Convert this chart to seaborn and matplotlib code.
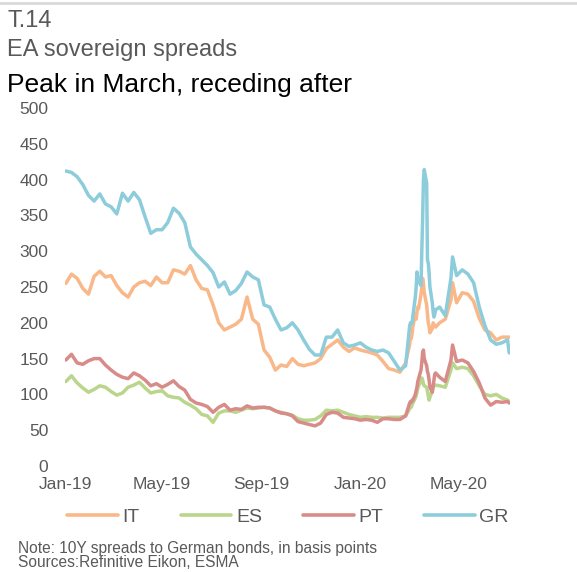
import matplotlib
matplotlib.use("Agg")
import matplotlib.pyplot as plt
import matplotlib.dates as mdates
from matplotlib.lines import Line2D
import seaborn as sns
import pandas as pd

# ---------------- data ----------------
series_names = ["IT", "ES", "PT", "GR"]
series_colors = ["#F9B889", "#BAD58C", "#D88C89", "#8DCCDB"]

weekly_2019 = pd.date_range("2019-01-02", periods=61, freq="7D")          # to 2020-02-26
daily_march = pd.bdate_range("2020-03-02", "2020-04-03")                   # business days
late_dates = pd.to_datetime(["2020-04-08", "2020-04-15", "2020-04-22", "2020-04-24",
                             "2020-04-29", "2020-05-06", "2020-05-13", "2020-05-20",
                             "2020-05-27", "2020-06-03", "2020-06-10", "2020-06-17",
                             "2020-06-24", "2020-07-01", "2020-07-03"])
dates = list(weekly_2019) + list(daily_march) + list(late_dates)

gr = [412, 410, 404, 393, 378, 370, 380, 366, 362, 352,
      381, 370, 382, 372, 348, 325, 330, 330, 340, 360,
      353, 340, 306, 296, 288, 280, 270, 250, 257, 240,
      245, 255, 271, 264, 260, 225, 222, 205, 190, 193,
      200, 190, 176, 163, 155, 155, 180, 180, 190, 172,
      167, 169, 172, 166, 162, 160, 162, 158, 146, 134,
      140,
      196, 200, 198, 200, 210, 236, 250, 271, 262, 258, 252, 300, 345, 400, 414,
      395, 288, 283, 270, 250, 228, 215, 208, 212, 218,
      222, 210, 262, 292, 266, 274, 268, 256, 222, 196, 176, 170, 172, 176, 158]

it = [255, 268, 262, 248, 240, 265, 272, 264, 266, 252,
      242, 236, 250, 256, 258, 252, 264, 256, 256, 274,
      272, 268, 280, 260, 248, 246, 225, 200, 190, 194,
      198, 205, 236, 205, 198, 162, 152, 134, 141, 139,
      150, 142, 140, 142, 144, 150, 164, 170, 176, 166,
      160, 165, 162, 160, 158, 155, 146, 136, 134, 131,
      144,
      170, 180, 178, 185, 195, 212, 205, 215, 222, 220, 240, 250, 262, 255, 242,
      225, 212, 200, 195, 186, 192, 200, 198, 195, 194,
      200, 205, 232, 256, 228, 242, 240, 230, 206, 190, 186, 176, 180, 180, 180]

pt = [148, 156, 144, 142, 147, 150, 150, 141, 134, 128,
      124, 122, 130, 126, 120, 112, 115, 110, 114, 119,
      111, 106, 93, 88, 86, 83, 75, 82, 86, 78,
      80, 79, 84, 81, 82, 82, 81, 77, 74, 73,
      70, 62, 60, 58, 56, 60, 72, 75, 74, 68,
      67, 66, 64, 65, 64, 61, 66, 66, 65, 65,
      70,
      88, 90, 89, 92, 92, 100, 105, 110, 118, 122, 134, 145, 158, 162, 150,
      140, 132, 128, 120, 110, 103, 112, 120, 128, 130,
      124, 118, 148, 169, 146, 148, 144, 132, 116, 95, 85, 90, 89, 90, 88]

es = [118, 126, 116, 109, 103, 107, 112, 110, 104, 99,
      102, 110, 113, 117, 109, 102, 104, 105, 98, 96,
      95, 89, 85, 80, 72, 70, 61, 74, 77, 77,
      75, 78, 81, 80, 81, 82, 81, 77, 75, 73,
      71, 66, 64, 64, 65, 70, 78, 77, 78, 75,
      72, 70, 68, 69, 68, 68, 67, 68, 68, 68,
      70,
      80, 84, 82, 86, 88, 95, 98, 103, 108, 112, 118, 123, 120, 115, 112,
      110, 104, 98, 92, 96, 105, 110, 112, 112, 113,
      112, 110, 134, 144, 136, 138, 136, 126, 112, 100, 98, 100, 95, 92, 90]

y_ticks = list(range(0, 501, 50))

title_code = "T.14"
title_main = "EA sovereign spreads"
subtitle = "Peak in March, receding after"
note_lines = ["Note: 10Y spreads to German bonds, in basis points",
              "Sources:Refinitive Eikon, ESMA"]

# ---------------- figure ----------------
sns.set_theme(style="white")
plt.rcParams["font.family"] = ["Liberation Sans", "DejaVu Sans"]
GREY = "#595959"

df = pd.DataFrame({"date": dates, "IT": it, "ES": es, "PT": pt, "GR": gr})
long = df.melt(id_vars="date", var_name="series", value_name="value")

fig = plt.figure(figsize=(5.77, 5.72), dpi=100)
W, H = 577, 572
ax = fig.add_axes([65 / W, 1 - 466 / H, (510 - 65) / W, (466 - 108) / H])

sns.lineplot(data=long, x="date", y="value", hue="series", hue_order=series_names,
             palette=dict(zip(series_names, series_colors)), linewidth=2.5,
             ax=ax, legend=False)

ax.set_ylim(0, 500)
ax.set_yticks(y_ticks)
ax.set_xlim(pd.Timestamp("2019-01-01"), pd.Timestamp("2020-07-04"))
ax.xaxis.set_major_locator(mdates.MonthLocator(bymonth=[1, 5, 9]))
ax.xaxis.set_major_formatter(mdates.DateFormatter("%b-%y"))
ax.tick_params(axis="both", length=0, labelsize=12.5, colors=GREY)
ax.tick_params(axis="y", pad=12)
ax.tick_params(axis="x", pad=8)
ax.set_xlabel("")
ax.set_ylabel("")
for s in ax.spines.values():
    s.set_visible(False)
ax.grid(False)

handles = [Line2D([0], [0], color=c, lw=2.6) for c in series_colors]
fig.legend(handles, series_names, loc="center left",
           bbox_to_anchor=(67 / W, 1 - 517 / H), ncol=4, frameon=False,
           handlelength=2.62, handletextpad=0.23, columnspacing=2.1,
           borderpad=0, borderaxespad=0, fontsize=14, labelcolor=GREY)

# top rule
fig.add_artist(Line2D([0, 1], [1 - 3 / H, 1 - 3 / H], color="#d9d9d9", lw=2,
                      transform=fig.transFigure))

fig.text(7 / W, 1 - 27 / H, title_code, fontsize=17, color=GREY, va="baseline", ha="left")
fig.text(7 / W, 1 - 56 / H, title_main, fontsize=17, color=GREY, va="baseline", ha="left")
fig.text(7 / W, 1 - 92 / H, subtitle, fontsize=19, color="black", va="baseline", ha="left")

fig.text(18 / W, 1 - 541 / H, "\n".join(note_lines), fontsize=11.2, color=GREY,
         va="top", ha="left", linespacing=0.95)

fig.savefig("out.png", dpi=100)
